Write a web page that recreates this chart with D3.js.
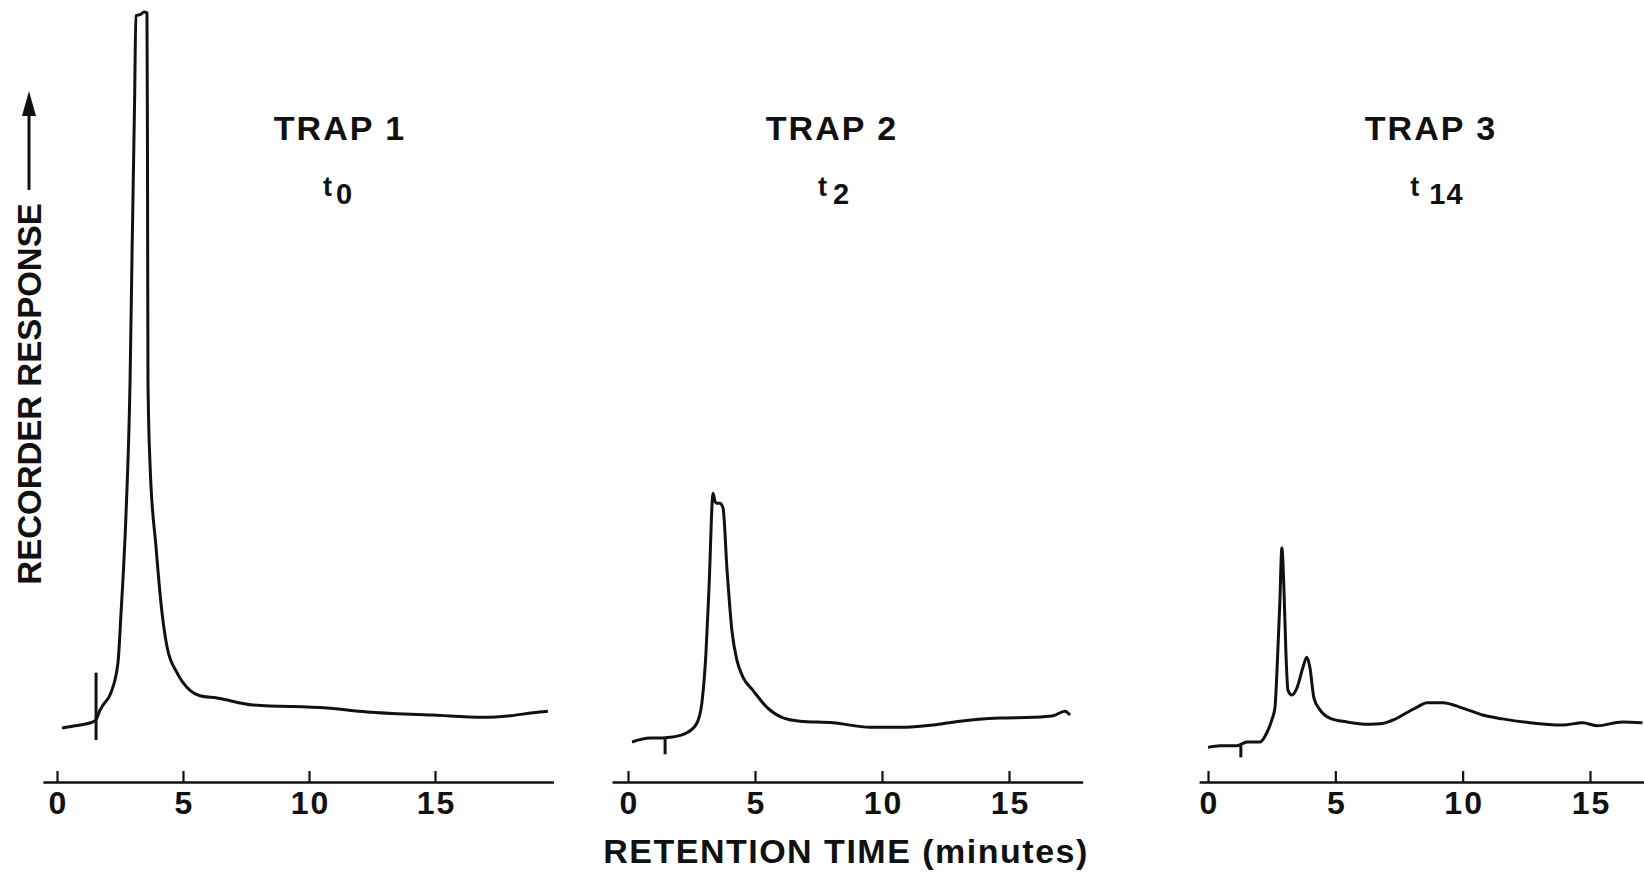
<!DOCTYPE html>
<html>
<head>
<meta charset="utf-8">
<script src="https://cdn.jsdelivr.net/npm/d3@7"></script>
<style>
  body { margin: 0; background: #fff; }
  text { font-family: "Liberation Sans", Arial, sans-serif; font-weight: bold; fill: #111; }
</style>
</head>
<body>
<svg id="chart" width="1644" height="874"></svg>
<script>
// recorder traces: [minutes, response]
var trap1 = [[0.20,7.0],[0.71,7.3],[1.43,7.8],[1.55,8.1],[1.71,9.35],[1.83,10.0],[2.14,11.6],[2.42,15.5],
  [2.54,21.9],[2.74,34.9],[2.90,52.2],[2.98,69.1],[3.08,88.6],[3.13,99.5],[3.33,99.7],[3.45,100],
  [3.57,99.9],[3.59,82.1],[3.61,52.2],[3.69,41.4],[3.93,30.5],[4.17,21.9],[4.37,17.5],[4.76,14.2],
  [5.28,11.9],[5.67,11.2],[6.35,10.9],[7.78,10.0],[10.71,9.6],[12.30,9.1],[14.92,8.7],[16.90,8.4],
  [17.98,8.6],[18.89,9.0],[19.48,9.2]];
var trap2 = [[0.16,5.2],[0.87,5.7],[1.34,5.7],[1.65,5.8],[2.32,6.4],[2.72,7.7],[2.91,10.3],[3.07,16.8],
  [3.19,25.3],[3.35,37.5],[3.43,36.4],[3.50,36.2],[3.62,36.2],[3.74,35.6],[3.90,27.5],[4.09,19.7],
  [4.29,15.8],[4.53,13.6],[4.92,11.9],[5.47,9.7],[6.06,8.4],[6.77,7.9],[8.07,7.7],[9.53,7.1],
  [10.71,7.1],[12.01,7.4],[13.07,7.9],[14.65,8.3],[15.94,8.4],[16.73,8.6],[17.20,9.2],[17.40,8.7]];
var trap3 = [[0.0,4.5],[0.47,4.7],[1.14,4.7],[1.53,5.2],[2.04,5.2],[2.31,6.4],[2.51,8.1],[2.63,9.7],
  [2.71,14.5],[2.82,23.2],[2.90,30.4],[2.98,25.3],[3.06,16.8],[3.14,11.9],[3.29,11.3],[3.49,12.2],
  [3.73,14.9],[3.88,16.2],[4.00,14.9],[4.16,10.9],[4.39,9.4],[4.78,8.3],[5.45,7.8],[6.35,7.5],
  [6.85,7.6],[7.30,8.1],[7.80,9.0],[8.25,9.8],[8.59,10.3],[9.22,10.3],[10.00,9.6],[10.78,8.7],
  [11.57,8.2],[12.63,7.7],[13.92,7.4],[14.71,7.7],[15.29,7.3],[16.27,7.8],[17.06,7.7]];

// injection marks: [minutes, top, bottom]
var injections = [[1.55,14.2,5.45],[1.46,5.7,3.6],[1.29,4.7,3.2]];

var trapNames = ["TRAP 1", "TRAP 2", "TRAP 3"];
var sampleTimes = ["0", "2", "14"];
var tickValues = [0, 5, 10, 15];
var axisEnds = [[-0.56, 19.7], [-0.63, 17.9], [-0.35, 17.2]];

var svg = d3.select("#chart");

// layout of the three strips
var panels = [
  {data: trap1, range: [57, 435], titleX: 340, subX: 338, gap: 4},
  {data: trap2, range: [628, 1009], titleX: 832, subX: 834, gap: 6},
  {data: trap3, range: [1208, 1590], titleX: 1431, subX: 1437, gap: 10}
];

var y = d3.scaleLinear().domain([0, 100]).range([782, 12]);

panels.forEach(function(p, i) {
  var x = d3.scaleLinear().domain([0, 15]).range(p.range);
  var ext = axisEnds[i];
  var xa = x.copy().domain(ext).range(ext.map(x));

  var g = svg.append("g").attr("transform", "translate(0," + y(0) + ")")
    .call(d3.axisBottom(xa).tickValues(tickValues).tickSizeInner(-11).tickSizeOuter(0).tickPadding(9));
  g.select(".domain").attr("stroke", "#111").attr("stroke-width", 2.5);
  g.selectAll(".tick line").attr("stroke", "#111").attr("stroke-width", 2.2);
  g.selectAll(".tick text").style("font-size", "32px").style("letter-spacing", "2px")
    .attr("dx", 1).attr("fill", "#111");

  var line = d3.line()
    .x(function(d) { return x(d[0]); })
    .y(function(d) { return y(d[1]); })
    .curve(d3.curveMonotoneX);

  svg.append("path").datum(p.data)
    .attr("d", line)
    .attr("fill", "none")
    .attr("stroke", "#111")
    .attr("stroke-width", 3)
    .attr("stroke-linejoin", "round");

  var inj = injections[i];
  svg.append("line")
    .attr("x1", x(inj[0])).attr("x2", x(inj[0]))
    .attr("y1", y(inj[1])).attr("y2", y(inj[2]))
    .attr("stroke", "#111").attr("stroke-width", 3);

  svg.append("text")
    .attr("x", p.titleX).attr("y", 140)
    .attr("text-anchor", "middle")
    .style("font-size", "34px").style("letter-spacing", "2px")
    .text(trapNames[i]);

  var sub = svg.append("text")
    .attr("x", p.subX).attr("y", 196)
    .attr("text-anchor", "middle");
  sub.append("tspan").style("font-size", "27px").text("t");
  sub.append("tspan").attr("dx", p.gap).attr("dy", 8)
    .style("font-size", "29px").style("letter-spacing", "1px").text(sampleTimes[i]);
});

svg.append("text")
  .attr("x", 846).attr("y", 863)
  .attr("text-anchor", "middle")
  .style("font-size", "34px").style("letter-spacing", "1.5px")
  .text("RETENTION TIME (minutes)");

// vertical label with arrow
svg.append("text")
  .attr("transform", "translate(41,394) rotate(-90)")
  .attr("text-anchor", "middle")
  .style("font-size", "33px")
  .text("RECORDER RESPONSE");

svg.append("line")
  .attr("x1", 29).attr("x2", 29).attr("y1", 190).attr("y2", 112)
  .attr("stroke", "#111").attr("stroke-width", 3);
svg.append("path")
  .attr("d", "M22,116 L29,91 L36,116 Z")
  .attr("fill", "#111");
</script>
</body>
</html>
